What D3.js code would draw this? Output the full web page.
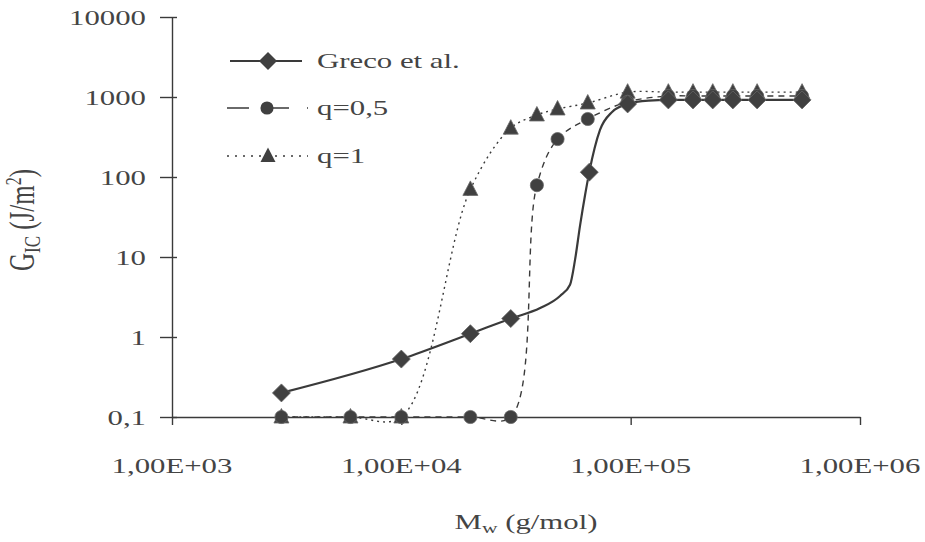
<!DOCTYPE html>
<html>
<head>
<meta charset="utf-8">
<script src="https://cdn.jsdelivr.net/npm/d3@7"></script>
<style>
  html, body { margin: 0; padding: 0; background: #fff; }
  svg { display: block; }
  text { font-family: "Liberation Serif", "Times New Roman", serif; fill: #444; }
</style>
</head>
<body>
<svg id="chart" width="925" height="542"></svg>
<script>
// ---------- data ----------
const xTicks = [1e3, 1e4, 1e5, 1e6];
const xTickLabels = ["1,00E+03", "1,00E+04", "1,00E+05", "1,00E+06"];
const yTicks = [0.1, 1, 10, 100, 1000, 10000];
const yTickLabels = ["0,1", "1", "10", "100", "1000", "10000"];

// Greco et al. : marked points
const grecoMw = [3000, 10000, 20000, 30000, 66000, 97000, 146000, 187000, 228000, 279000, 356000, 559000];
const grecoG  = [0.2, 0.53, 1.1, 1.7, 115, 820, 920, 920, 920, 920, 920, 920];
// Greco et al. : fitted curve (unmarked points)
const grecoCurveMw = [3000, 10000, 20000, 30000, 40300, 49200, 54400, 57200, 60200, 63300, 66000, 73500, 83000, 97000, 120000, 146000, 228000, 356000, 559000];
const grecoCurveG  = [0.2, 0.53, 1.1, 1.7, 2.3, 3.26, 4.5, 9.2, 25, 60, 115, 387, 650, 820, 900, 920, 920, 920, 920];

// q = 0,5
const q05Mw = [3000, 6000, 10000, 20000, 30000, 39000, 48000, 65000, 97000, 146000, 187000, 228000, 279000, 356000, 559000];
const q05G  = [0.1, 0.1, 0.1, 0.1, 0.1, 79, 298, 531, 870, 1030, 1030, 1030, 1030, 1030, 1030];

// q = 1
const q1Mw = [3000, 6000, 10000, 20000, 30000, 39000, 48000, 65000, 97000, 146000, 187000, 228000, 279000, 356000, 559000];
const q1G  = [0.1, 0.1, 0.1, 70, 408, 596, 708, 841, 1150, 1150, 1150, 1150, 1150, 1150, 1150];

const legendNames = ["Greco et al.", "q=0,5", "q=1"];

// ---------- drawing ----------
const svg = d3.select("#chart");
const ink = "#3a3a3a";
const markFill = "#404040";
const SX = 1.4; // horizontal stretch of the scanned text
const fs = 22;

const x = d3.scaleLog().domain([1e3, 1e6]).range([172, 860]);
const y = d3.scaleLog().domain([0.1, 10000]).range([417, 17]);

// axes
const yAxis = d3.axisLeft(y).tickValues(yTicks).tickFormat("").tickSizeInner(12).tickSizeOuter(0);
const gy = svg.append("g").attr("transform", "translate(172,0)").call(yAxis);
gy.selectAll("line").attr("x2", -12).attr("x1", 5).attr("stroke", ink).attr("stroke-width", 1.4);
gy.select(".domain").attr("stroke", ink).attr("stroke-width", 1.4);

const xAxis = d3.axisBottom(x).tickValues(xTicks).tickFormat("").tickSizeInner(8).tickSizeOuter(0);
const gx = svg.append("g").attr("transform", "translate(0,417)").call(xAxis);
gx.selectAll("line").attr("stroke", ink).attr("stroke-width", 1.4);
gx.select(".domain").attr("stroke", ink).attr("stroke-width", 1.4);

function stretchedText(g, tx, ty, str, anchor, size) {
  return g.append("text")
    .attr("transform", `translate(${tx},${ty}) scale(${SX},1)`)
    .attr("text-anchor", anchor)
    .attr("font-size", size || fs)
    .text(str);
}

// tick labels
yTicks.forEach((v, i) => stretchedText(svg, 146, y(v) + 8, yTickLabels[i], "end"));
xTicks.forEach((v, i) => stretchedText(svg, x(v), 473, xTickLabels[i], "middle"));

// axis titles
const xt = svg.append("text")
  .attr("transform", `translate(${(x.range()[0] + x.range()[1]) / 2 + 10},529) scale(${SX},1)`)
  .attr("text-anchor", "middle").attr("font-size", fs);
xt.append("tspan").text("M");
xt.append("tspan").attr("font-size", fs * 0.7).attr("dy", 4).text("w");
xt.append("tspan").attr("dy", -4).text(" (g/mol)");

const yt = svg.append("text")
  .attr("transform", `translate(34,220) scale(${SX},1) rotate(-90)`)
  .attr("text-anchor", "middle").attr("font-size", 25);
yt.append("tspan").text("G");
yt.append("tspan").attr("font-size", 17).attr("dy", 4).text("IC");
yt.append("tspan").attr("dy", -4).text(" (J/m");
yt.append("tspan").attr("font-size", 16).attr("dy", -9).text("2");
yt.append("tspan").attr("dy", 9).text(")");

// line generators
const lineMono = d3.line().x(d => x(d[0])).y(d => y(d[1])).curve(d3.curveMonotoneX);
const lineSmooth = d3.line().x(d => x(d[0])).y(d => y(d[1])).curve(d3.curveCatmullRom.alpha(0.5));
const zip = (a, b) => a.map((v, i) => [v, b[i]]);

// marker shapes
const diamond = "M0,-9L9,0L0,9L-9,0Z";
const circle = d3.symbol().type(d3.symbolCircle).size(135)();
const triangle = "M0,-8.5L7.5,6L-7.5,6Z";

// series lines
svg.append("path").datum(zip(q1Mw, q1G)).attr("d", lineSmooth)
  .attr("fill", "none").attr("stroke", ink).attr("stroke-width", 1.4).attr("stroke-dasharray", "2,4");
svg.append("path").datum(zip(q05Mw, q05G)).attr("d", lineSmooth)
  .attr("fill", "none").attr("stroke", ink).attr("stroke-width", 1.4).attr("stroke-dasharray", "6,5");
svg.append("path").datum(zip(grecoCurveMw, grecoCurveG)).attr("d", lineMono)
  .attr("fill", "none").attr("stroke", ink).attr("stroke-width", 2.2);

// series markers
function markers(mw, g, sym) {
  svg.append("g").selectAll("path").data(zip(mw, g)).join("path")
    .attr("transform", d => `translate(${x(d[0])},${y(d[1])})`)
    .attr("d", sym).attr("fill", markFill).attr("stroke", "#666").attr("stroke-width", 0.8);
}
markers(q1Mw, q1G, triangle);
markers(q05Mw, q05G, circle);
markers(grecoMw, grecoG, diamond);

// legend
const legY = [61, 108, 156];
const leg = svg.append("g");
leg.append("line").attr("x1", 230).attr("x2", 302).attr("y1", legY[0]).attr("y2", legY[0])
  .attr("stroke", ink).attr("stroke-width", 2.2);
leg.append("path").attr("transform", `translate(268,${legY[0]})`).attr("d", diamond).attr("fill", markFill);
leg.append("line").attr("x1", 227).attr("x2", 308).attr("y1", legY[1]).attr("y2", legY[1])
  .attr("stroke", ink).attr("stroke-width", 1.4).attr("stroke-dasharray", "22,18");
leg.append("path").attr("transform", `translate(267,${legY[1]})`).attr("d", circle).attr("fill", markFill);
leg.append("line").attr("x1", 227).attr("x2", 308).attr("y1", legY[2]).attr("y2", legY[2])
  .attr("stroke", ink).attr("stroke-width", 1.4).attr("stroke-dasharray", "2,6");
leg.append("path").attr("transform", `translate(268,${legY[2]})`).attr("d", triangle).attr("fill", markFill);
legendNames.forEach((n, i) => stretchedText(leg, 317, legY[i] + 7, n, "start"));
</script>
</body>
</html>
